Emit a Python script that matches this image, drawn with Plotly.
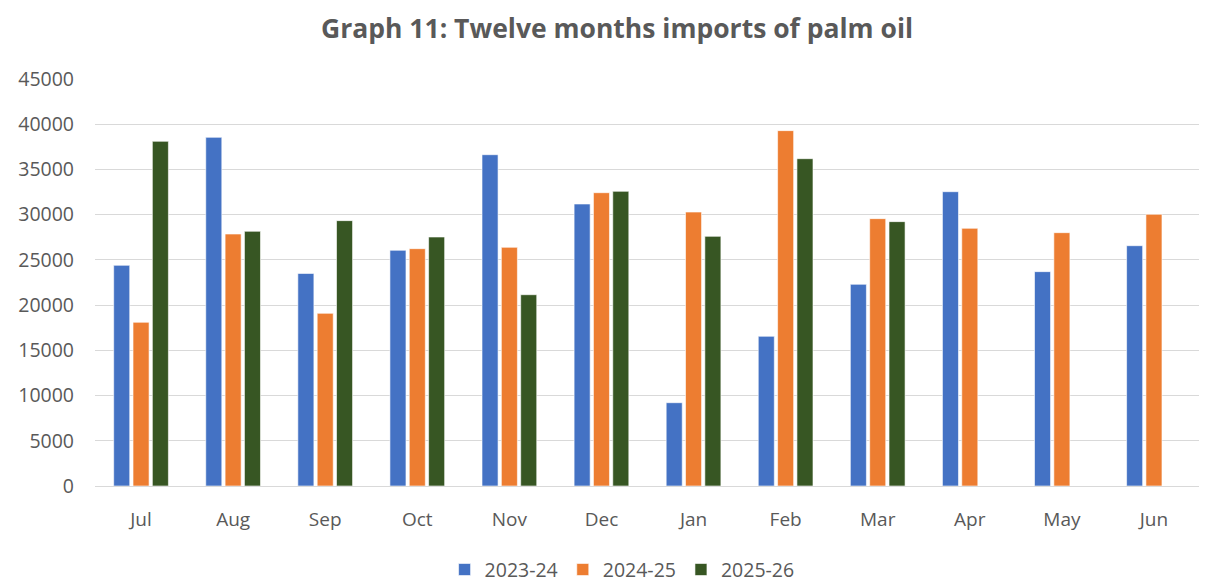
import plotly.graph_objects as go

months = ["Jul", "Aug", "Sep", "Oct", "Nov", "Dec", "Jan", "Feb", "Mar", "Apr", "May", "Jun"]
s2023_24 = [24400, 38550, 23500, 26060, 36630, 31180, 9210, 16550, 22300, 32540, 23700, 26570]
s2024_25 = [18100, 27860, 19090, 26240, 26390, 32430, 30290, 39290, 29560, 28490, 28010, 30040]
s2025_26 = [38110, 28160, 29340, 27530, 21150, 32580, 27600, 36190, 29230, None, None, None]

series = [
    ("2023-24", s2023_24, "#4472C4"),
    ("2024-25", s2024_25, "#ED7D31"),
    ("2025-26", s2025_26, "#375623"),
]

fig = go.Figure()
for name, vals, col in series:
    fig.add_trace(go.Bar(x=months, y=vals, name=name,
                         marker=dict(color=col, line=dict(color="white", width=0.6))))

font_family = "Open Sans, Liberation Sans, sans-serif"
fig.update_layout(
    width=1199, height=590,
    margin=dict(l=87, r=7, t=71, b=112),
    paper_bgcolor="white", plot_bgcolor="white",
    barmode="group", bargap=0.37, bargroupgap=0.17,
    title=dict(text="<b>Graph 11: Twelve months imports of palm oil</b>",
               x=0.508, xanchor="center", y=0.965, yanchor="middle",
               font=dict(family=font_family, size=26.5, color="#595959")),
    font=dict(family=font_family, size=19, color="#595959"),
    xaxis=dict(showgrid=False, showline=False, ticks="", ticklabelstandoff=20,
               tickfont=dict(size=19, color="#595959")),
    yaxis=dict(range=[0, 45000], dtick=5000, showgrid=True, gridcolor="#d9d9d9", gridwidth=1.2,
               zeroline=True, zerolinecolor="#d9d9d9", zerolinewidth=1.2,
               tickformat="d", ticks="", ticklabelstandoff=20,
               tickfont=dict(size=19.5, color="#595959")),
    legend=dict(orientation="h", x=0.477, xanchor="center", y=-0.206, yanchor="middle",
                font=dict(size=19.5, color="#595959"), itemwidth=30, traceorder="normal"),
)

fig.write_html("out.html")
